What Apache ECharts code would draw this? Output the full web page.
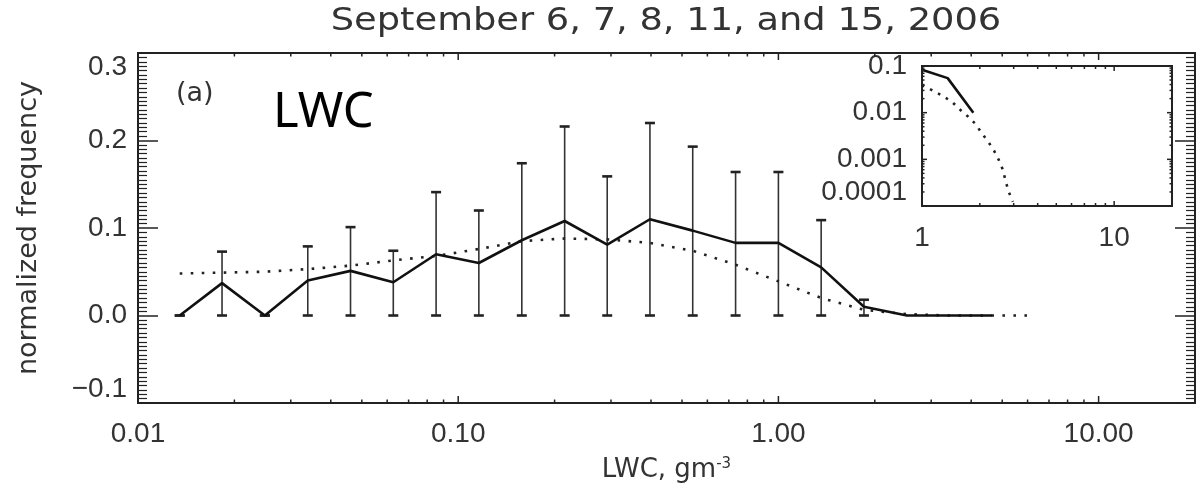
<!DOCTYPE html>
<html>
<head>
<meta charset="utf-8">
<title>LWC normalized frequency</title>
<script src="https://cdn.jsdelivr.net/npm/echarts@6/dist/echarts.min.js"></script>
<style>
  html, body { margin: 0; padding: 0; background: #fff; }
  #chart { width: 1200px; height: 492px; }
</style>
</head>
<body>
<div id="chart"></div>
<script>
'use strict';

// bin centres (LWC, g m^-3)
var lwc = [0.0135, 0.0183, 0.0249, 0.0339, 0.0461, 0.0627, 0.0853, 0.116, 0.158, 0.215,
           0.292, 0.397, 0.540, 0.735, 1.0, 1.36, 1.85, 2.52, 3.42, 4.65];
// observed normalized frequency (solid)
var freq = [0, 0.037, 0, 0.040, 0.051, 0.038, 0.070, 0.060, 0.086, 0.108,
            0.081, 0.110, 0.097, 0.083, 0.083, 0.055, 0.010, 0, 0, 0];
// error bars (first 17 bins)
var errLow  = [0, 0, 0, 0, 0, 0, 0, 0, 0, 0, 0, 0, 0, 0, 0, 0, 0];
var errHigh = [0, 0.073, 0, 0.079, 0.101, 0.074, 0.141, 0.120, 0.174, 0.216,
               0.159, 0.220, 0.193, 0.164, 0.164, 0.109, 0.018];
// fitted distribution (dotted)
var fitLwc = [0.0135, 0.0183, 0.0249, 0.0339, 0.0461, 0.0627, 0.0853, 0.116, 0.158, 0.215,
              0.292, 0.397, 0.540, 0.735, 1.0, 1.36, 1.85, 2.52, 3.42, 4.65, 6.33];
var fit = [0.048, 0.049, 0.050, 0.053, 0.057, 0.063, 0.068, 0.076, 0.085, 0.088,
           0.087, 0.083, 0.074, 0.058, 0.039, 0.020, 0.0065, 0.0015, 0, 0, 0];
// inset: tail of the fit on log-log axes
var insetFitLwc = [1.0, 1.14, 1.28, 1.43, 1.57, 1.74, 1.9, 2.04, 2.21, 2.37, 2.51, 2.64, 2.72, 2.83, 2.97];
var insetFit = [0.039, 0.0296, 0.0229, 0.0172, 0.0118, 0.0082, 0.0057, 0.0037, 0.0024, 0.00154,
                0.00097, 0.00059, 0.00035, 0.0002, 0.000124];

// axis decades / tick labels
var mainDecades = [0.01, 0.1, 1, 10];
var insetXDecades = [1, 10];
var insetYDecades = [0.0001, 0.001, 0.01, 0.1];
var minorMult = [2, 3, 4, 5, 6, 7, 8, 9];

var X_MIN = 0.01, X_MAX = 20, Y_MIN = -0.1, Y_MAX = 0.3;
var IX_MIN = 1, IX_MAX = 20, IY_MIN = 0.0001, IY_MAX = 0.1;

var ink = '#222';
var textCol = '#333';
var numFont = '"Liberation Sans", Arial, sans-serif';
var nameFont = '"DejaVu Sans", sans-serif';

function logTicks(decades, max) {
  var out = [];
  decades.forEach(function (d) {
    out.push([d, 1]);
    minorMult.forEach(function (m) {
      if (d * m < max) out.push([d * m, 0]);
    });
  });
  return out;
}

var tickStyle = { stroke: ink, lineWidth: 1.5 };

function xTicks(yLo, yHi, majorLen, minorLen) {
  return function (params, api) {
    var v = api.value(0);
    var len = api.value(2) ? majorLen : minorLen;
    var b = api.coord([v, yLo]);
    var t = api.coord([v, yHi]);
    return { type: 'group', children: [
      { type: 'line', shape: { x1: b[0], y1: b[1], x2: b[0], y2: b[1] - len }, style: tickStyle },
      { type: 'line', shape: { x1: t[0], y1: t[1], x2: t[0], y2: t[1] + len }, style: tickStyle }
    ]};
  };
}

function yTicks(xLo, xHi, majorLen, minorLen) {
  return function (params, api) {
    var v = api.value(1);
    var len = api.value(2) ? majorLen : minorLen;
    var l = api.coord([xLo, v]);
    var r = api.coord([xHi, v]);
    return { type: 'group', children: [
      { type: 'line', shape: { x1: l[0], y1: l[1], x2: l[0] + len, y2: l[1] }, style: tickStyle },
      { type: 'line', shape: { x1: r[0], y1: r[1], x2: r[0] - len, y2: r[1] }, style: tickStyle }
    ]};
  };
}

var mainXTickData = logTicks(mainDecades, X_MAX).map(function (t) { return [t[0], Y_MIN, t[1]]; });
var insetXTickData = logTicks(insetXDecades, IX_MAX).map(function (t) { return [t[0], IY_MIN, t[1]]; });
var insetYTickData = logTicks(insetYDecades, IY_MAX).map(function (t) { return [IX_MIN, t[0], t[1]]; });

var mainLine = lwc.map(function (x, i) { return [x, freq[i]]; });
var fitLine = fitLwc.map(function (x, i) { return [x, fit[i]]; });
var errData = errHigh.map(function (h, i) { return [lwc[i], errLow[i], h]; });
var insetLine = mainLine.filter(function (p) { return p[0] >= 1 && p[1] > 0; });
var insetFitLine = insetFitLwc.map(function (x, i) { return [x, insetFit[i]]; });

var chart = echarts.init(document.getElementById('chart'), null, { renderer: 'canvas' });

var valueYAxis = {
  type: 'value', gridIndex: 0, min: Y_MIN, max: Y_MAX, interval: 0.1,
  axisLine: { show: true, lineStyle: { color: ink, width: 2 } },
  axisTick: { show: true, inside: true, length: 20, lineStyle: { color: ink, width: 1.5 } },
  minorTick: { show: true, splitNumber: 20, length: 9, lineStyle: { color: ink, width: 1.2 } },
  splitLine: { show: false }
};

var option = {
  animation: false,
  backgroundColor: '#fff',
  grid: [
    { left: 138, top: 53, width: 1057, height: 350, outerBoundsMode: 'none' },
    { left: 922, top: 66, width: 250, height: 140, show: true, backgroundColor: '#fff',
      borderColor: ink, borderWidth: 2, outerBoundsMode: 'none' }
  ],
  xAxis: [
    {
      type: 'log', gridIndex: 0, min: X_MIN, max: X_MAX, logBase: 10,
      name: 'LWC, gm{sup|-3}', nameLocation: 'middle', nameGap: 54,
      nameTextStyle: { fontFamily: nameFont, fontSize: 26, color: textCol,
        rich: { sup: { fontFamily: nameFont, fontSize: 15, color: textCol, verticalAlign: 'top', padding: [0, 0, 12, 0] } } },
      axisLine: { show: true, onZero: false, lineStyle: { color: ink, width: 2 } },
      axisTick: { show: false },
      splitLine: { show: false },
      axisLabel: {
        margin: 17, fontFamily: numFont, fontSize: 28, color: textCol,
        showMaxLabel: false, showMinLabel: true,
        formatter: function (v) { return Number(v).toFixed(2); }
      }
    },
    {
      type: 'log', gridIndex: 0, position: 'top', min: X_MIN, max: X_MAX, logBase: 10,
      axisLine: { show: true, onZero: false, lineStyle: { color: ink, width: 2 } },
      axisTick: { show: false }, axisLabel: { show: false }, splitLine: { show: false }
    },
    {
      type: 'log', gridIndex: 1, min: IX_MIN, max: IX_MAX, logBase: 10,
      axisLine: { show: false, onZero: false }, axisTick: { show: false }, splitLine: { show: false },
      axisLabel: {
        margin: 18, fontFamily: numFont, fontSize: 28, color: textCol,
        showMaxLabel: false,
        formatter: function (v) { return String(Math.round(v)); }
      }
    }
  ],
  yAxis: [
    echarts.util.merge({
      name: 'normalized frequency', nameLocation: 'middle', nameGap: 96,
      nameTextStyle: { fontFamily: nameFont, fontSize: 27, color: textCol },
      axisLabel: {
        margin: 11, fontFamily: numFont, fontSize: 28, color: textCol,
        verticalAlignMaxLabel: 'top', verticalAlignMinLabel: 'bottom',
        formatter: function (v) {
          var s = Math.abs(v).toFixed(1);
          return v < -1e-9 ? '\u2212' + s : s;
        }
      }
    }, valueYAxis, true),
    echarts.util.merge({ position: 'right', axisLabel: { show: false } }, valueYAxis, true),
    {
      type: 'log', gridIndex: 1, min: IY_MIN, max: IY_MAX, logBase: 10,
      axisLine: { show: false, onZero: false }, axisTick: { show: false }, splitLine: { show: false },
      axisLabel: {
        margin: 15, fontFamily: numFont, fontSize: 28, color: textCol,
        verticalAlignMaxLabel: 'top', verticalAlignMinLabel: 'bottom',
        formatter: function (v) { return Number(Number(v).toPrecision(3)).toString(); }
      }
    }
  ],
  graphic: [
    { type: 'text', x: 666, y: 22, scaleX: 1.15, silent: true,
      style: { text: 'September 6, 7, 8, 11, and 15, 2006', fontFamily: nameFont, fontSize: 32,
               fill: textCol, align: 'center', verticalAlign: 'middle' } },
    { type: 'text', x: 176, y: 94, silent: true,
      style: { text: '(a)', fontFamily: nameFont, fontSize: 27, fill: textCol, align: 'left', verticalAlign: 'middle' } },
    { type: 'text', x: 273, y: 113, silent: true,
      style: { text: 'LWC', fontFamily: '"Noto Sans", sans-serif', fontSize: 49, fill: '#000', align: 'left', verticalAlign: 'middle' } }
  ],
  series: [
    {
      type: 'custom', name: 'error', xAxisIndex: 0, yAxisIndex: 0, data: errData,
      encode: { x: 0, y: [1, 2] }, silent: true, z: 3,
      renderItem: function (params, api) {
        var x = api.value(0);
        var lo = api.coord([x, api.value(1)]);
        var hi = api.coord([x, api.value(2)]);
        var w = 5;
        var bar = { stroke: '#333', lineWidth: 1.6 };
        var cap = { stroke: '#222', lineWidth: 2.6 };
        return { type: 'group', children: [
          { type: 'line', shape: { x1: lo[0], y1: lo[1], x2: hi[0], y2: hi[1] }, style: bar },
          { type: 'line', shape: { x1: lo[0] - w, y1: lo[1], x2: lo[0] + w, y2: lo[1] }, style: cap },
          { type: 'line', shape: { x1: hi[0] - w, y1: hi[1], x2: hi[0] + w, y2: hi[1] }, style: cap }
        ]};
      }
    },
    {
      type: 'line', name: 'fit', xAxisIndex: 0, yAxisIndex: 0, data: fitLine,
      showSymbol: false, smooth: false, silent: true, z: 4,
      lineStyle: { color: ink, width: 2.6, type: [2.6, 8.4] }
    },
    {
      type: 'line', name: 'observed', xAxisIndex: 0, yAxisIndex: 0, data: mainLine,
      showSymbol: false, silent: true, z: 5,
      lineStyle: { color: '#111', width: 2.6 }
    },
    {
      type: 'custom', xAxisIndex: 0, yAxisIndex: 0, data: mainXTickData,
      encode: { x: 0, y: 1 }, silent: true, clip: false, z: 6,
      renderItem: xTicks(Y_MIN, Y_MAX, 7, 3.5)
    },
    {
      type: 'line', name: 'inset fit', xAxisIndex: 2, yAxisIndex: 2, data: insetFitLine,
      showSymbol: false, silent: true, z: 4, clip: true,
      lineStyle: { color: ink, width: 2.6, type: [2.6, 6.4] }
    },
    {
      type: 'line', name: 'inset observed', xAxisIndex: 2, yAxisIndex: 2, data: insetLine,
      showSymbol: false, silent: true, z: 5, clip: true,
      lineStyle: { color: '#111', width: 2.6 }
    },
    {
      type: 'custom', xAxisIndex: 2, yAxisIndex: 2, data: insetXTickData,
      encode: { x: 0, y: 1 }, silent: true, clip: false, z: 6,
      renderItem: xTicks(IY_MIN, IY_MAX, 5, 3)
    },
    {
      type: 'custom', xAxisIndex: 2, yAxisIndex: 2, data: insetYTickData,
      encode: { x: 0, y: 1 }, silent: true, clip: false, z: 6,
      renderItem: yTicks(IX_MIN, IX_MAX, 5, 2.5)
    }
  ]
};

chart.setOption(option);
</script>
</body>
</html>
